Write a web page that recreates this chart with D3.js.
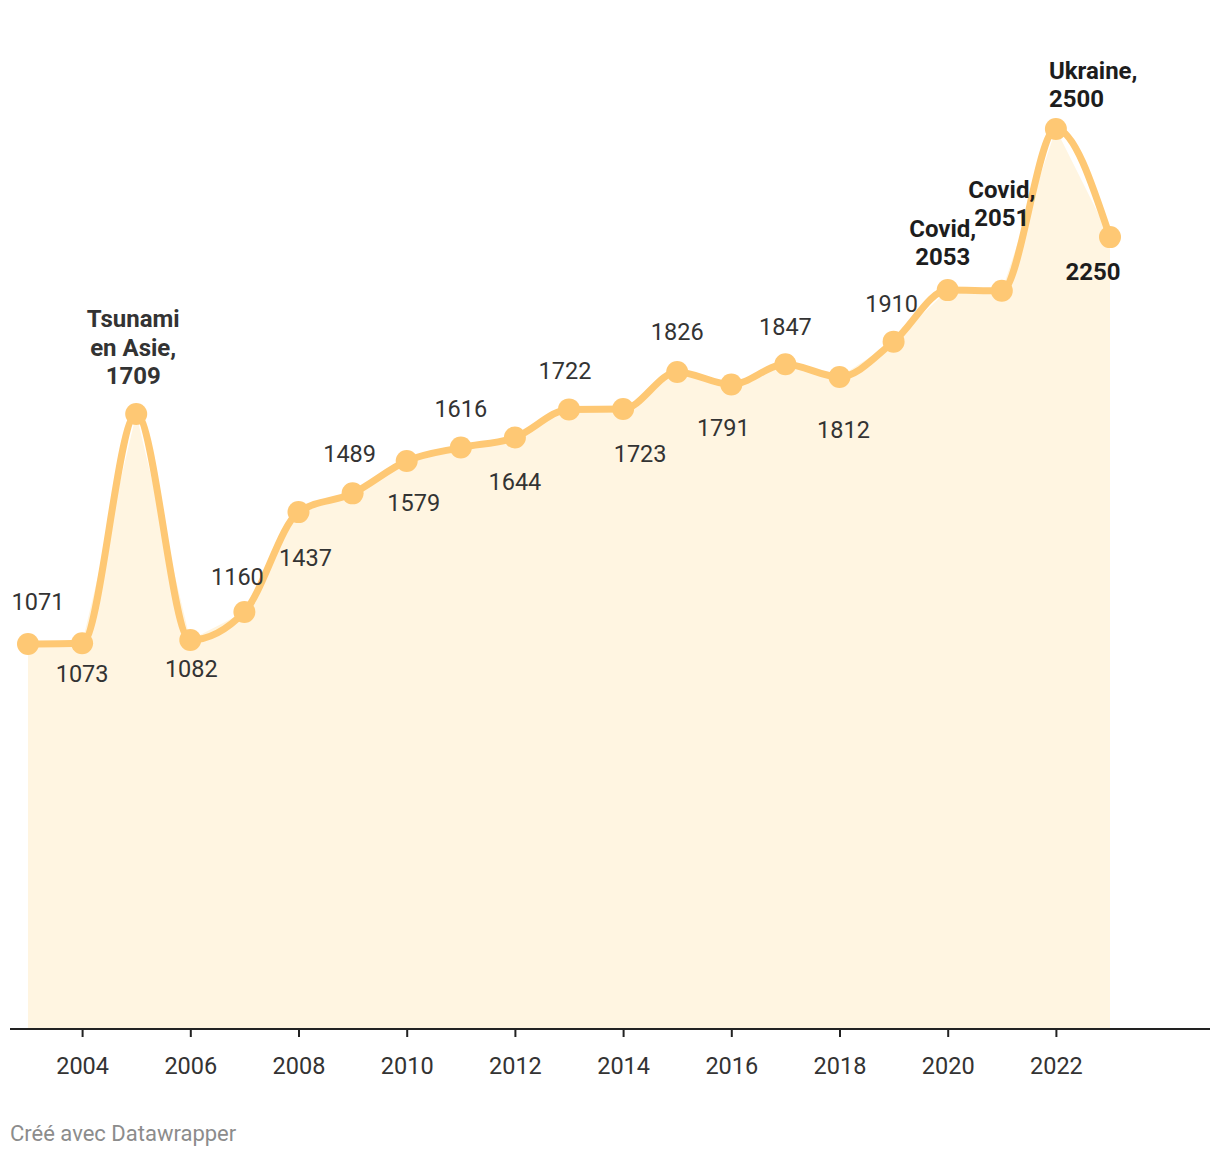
<!DOCTYPE html>
<html><head><meta charset="utf-8">
<script src="https://cdn.jsdelivr.net/npm/d3@7"></script>
<style>
body{margin:0;background:#fff;font-family:Roboto,"Noto Sans",sans-serif;}
</style></head>
<body>
<svg id="chart" width="1220" height="1156"></svg>
<script>
const years = [2003,2004,2005,2006,2007,2008,2009,2010,2011,2012,2013,2014,2015,2016,2017,2018,2019,2020,2021,2022,2023];
const values = [1071,1073,1709,1082,1160,1437,1489,1579,1616,1644,1722,1723,1826,1791,1847,1812,1910,2053,2051,2500,2200];
const labelTexts = ["1071","1073","Tsunami\nen Asie,\n1709","1082","1160","1437","1489","1579","1616","1644","1722","1723","1826","1791","1847","1812","1910","Covid,\n2053","Covid,\n2051","Ukraine,\n2500","2250"];
const labelBold = [false,false,true,false,false,false,false,false,false,false,false,false,false,false,false,false,false,true,true,true,true];
const tickYears = [2004,2006,2008,2010,2012,2014,2016,2018,2020,2022];
// label placement offsets (layout)
const labelDx = [10,0,-3,1,-7,7,-3,7,0,0,-4,17,0,-8,0,4,-2,-5,0,-7,-17];
const labelDy = [-42,30,-38,29,-35,46,-40,42,-39,44,-39,45,-40,43,-38,53,-38,-33,-73,-30,34];
const labelAnchor = ["middle","middle","middle","middle","middle","middle","middle","middle","middle","middle","middle","middle","middle","middle","middle","middle","middle","middle","middle","start","middle"];

const svg = d3.select("#chart");
const x = d3.scaleLinear().domain([2003,2023]).range([28,1110]);
const y = d3.scaleLinear().domain([0,2500]).range([1030,129]);
const data = years.map((yr,i)=>({yr, v:values[i], t:labelTexts[i], b:labelBold[i], dx:labelDx[i], dy:labelDy[i], a:labelAnchor[i]}));

svg.append("path").datum(data)
  .attr("fill","#fff5e1")
  .attr("d", d3.area().x(d=>x(d.yr)).y0(y(0)).y1(d=>y(d.v)));

svg.append("path").datum(data)
  .attr("fill","none").attr("stroke","#fec874").attr("stroke-width",7)
  .attr("stroke-linejoin","round").attr("stroke-linecap","round")
  .attr("d", d3.line().x(d=>x(d.yr)).y(d=>y(d.v)).curve(d3.curveMonotoneX));

svg.append("g").selectAll("circle").data(data).join("circle")
  .attr("cx",d=>x(d.yr)).attr("cy",d=>y(d.v)).attr("r",11).attr("fill","#fec874");

// axis
const xAxisG = svg.append("g").attr("transform",`translate(0,${1029})`);
xAxisG.append("line").attr("x1",10).attr("x2",1210).attr("y1",0).attr("y2",0).attr("stroke","#222").attr("stroke-width",2);
const ax = d3.axisBottom(x).tickValues(tickYears).tickFormat(d3.format("d")).tickSize(8).tickPadding(20);
const axG = xAxisG.append("g").call(ax);
axG.select(".domain").remove();
axG.selectAll(".tick line").attr("stroke","#222").attr("stroke-width",2);
axG.selectAll(".tick text").attr("font-family","Roboto").attr("font-size",23.5).attr("fill","#333");

// labels
const lg = svg.append("g").attr("font-family","Roboto");
data.forEach(d=>{
  const lines = d.t.split("\n");
  const n = lines.length;
  const cx = x(d.yr)+d.dx;
  const above = d.dy < 0;
  lines.forEach((ln,j)=>{
    let cy;
    if (above) cy = y(d.v) + d.dy - (n-1-j)*28.5;
    else cy = y(d.v) + d.dy + j*28.5;
    lg.append("text").attr("x",cx).attr("y",cy).attr("dy","0.35em")
      .attr("text-anchor",d.a)
      .attr("font-size", d.b ? 24 : 23.5)
      .attr("font-weight", d.b ? 700 : 400)
      .attr("fill", d.b ? (d.yr===2005 ? "#333" : "#1d1d1d") : "#333")
      .text(ln);
  });
});

svg.append("text").attr("x",10).attr("y",1141).attr("font-family","Roboto").attr("font-size",22)
  .attr("fill","#8c8c8c").text("Créé avec Datawrapper");
</script>
</body></html>
